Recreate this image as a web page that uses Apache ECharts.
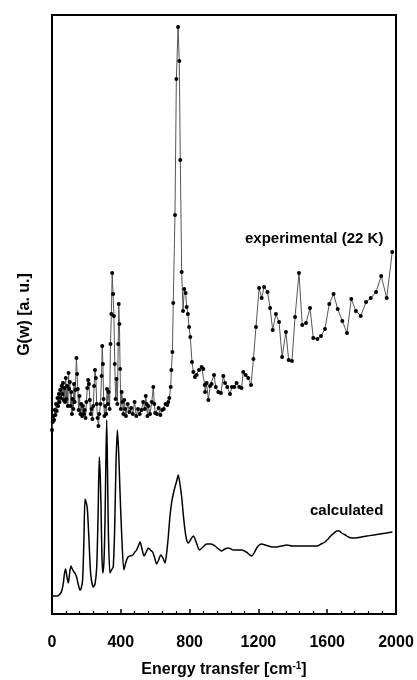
<!DOCTYPE html>
<html>
<head>
<meta charset="utf-8">
<script src="https://cdn.jsdelivr.net/npm/echarts@6/dist/echarts.min.js"></script>
<style>html,body{margin:0;padding:0;background:#fff;}#c{width:417px;height:680px;}</style>
</head>
<body>
<div id="c"></div>
<script>
var xTicks = [0, 400, 800, 1200, 1600, 2000];

var expX = [0,4,8,12,16,20,24,28,32,36,40,44,48,52,56,60,64,68,72,76,80,84,88,92,96,100,104,108,112,116,120,124,128,132,136,142,146,150,155,160,165,170,175,180,185,190,195,200,205,210,215,220,225,230,235,240,245,250,255,260,265,270,275,282,288,292,296,300,305,310,315,320,325,330,335,340,345,350,355,360,365,370,375,380,385,388,392,396,400,405,410,415,420,425,430,440,450,460,470,480,490,500,510,520,530,540,545,550,555,560,570,580,589,595,600,610,620,630,640,650,660,670,676,682,690,694,700,705,715,723,733,740,746,754,762,769,777,783,790,797,804,814,822,831,841,855,870,880,888,890,899,909,919,928,942,952,967,982,996,1006,1019,1035,1046,1060,1073,1089,1102,1112,1126,1141,1157,1171,1186,1204,1219,1233,1253,1268,1283,1302,1320,1338,1360,1376,1395,1413,1436,1455,1477,1500,1519,1543,1564,1587,1612,1637,1661,1688,1715,1740,1767,1795,1826,1853,1884,1914,1946,1978];
var expY = [184,192,198,194,204,199,210,203,216,208,220,212,224,216,228,220,231,214,226,212,236,215,228,208,241,225,232,208,222,200,215,205,230,212,224,256,240,225,204,218,200,210,198,208,200,204,196,212,226,234,230,214,200,205,195,208,228,244,236,210,196,188,200,210,238,268,250,215,198,208,200,225,210,222,205,270,300,341,320,298,250,215,235,210,270,310,290,245,205,222,212,200,214,205,198,210,202,206,200,212,198,205,200,204,212,205,218,210,198,208,200,212,227,210,201,200,206,199,204,205,210,209,212,216,227,244,262,311,399,535,587,553,454,342,303,325,321,307,300,287,277,252,242,237,239,244,247,245,229,222,231,214,228,230,239,227,222,221,238,231,227,220,227,227,231,227,226,242,239,236,229,255,287,326,316,327,322,306,284,300,292,257,282,254,253,297,341,289,291,306,276,275,278,285,310,320,305,293,281,315,303,298,312,316,322,338,316,362];

var calcX = [0,30,47,58,66,72,79,86,95,102,110,118,128,136,143,152,163,170,178,185,192,198,205,210,215,225,240,250,260,268,275,280,285,290,295,302,308,313,318,323,328,337,346,356,365,372,380,388,395,405,418,430,442,453,470,482,492,502,512,522,535,548,560,572,585,597,608,620,632,645,657,666,676,686,696,705,715,725,734,744,754,763,773,783,793,808,822,838,857,878,899,925,948,968,986,1005,1025,1040,1054,1080,1103,1130,1161,1175,1190,1205,1219,1240,1258,1280,1306,1335,1364,1400,1442,1490,1539,1565,1587,1605,1626,1640,1655,1670,1684,1705,1723,1745,1762,1800,1830,1870,1907,1945,1979];
var calcY = [18,18,20,24,31,40,45,38,31,40,48,45,42,40,37,30,24,26,34,70,115,112,106,92,74,40,27,30,47,100,157,140,107,60,41,52,91,150,194,140,80,41,44,47,90,150,184,160,124,80,44,52,57,58,59,62,64,68,72,66,58,62,66,64,62,56,50,54,59,56,51,60,77,98,112,120,127,133,139,130,117,100,84,74,71,75,78,72,64,67,70,70,68,65,63,65,66,65,64,64,64,62,58,61,66,69,70,69,68,67,67,68,69,68,68,68,68,70,72,75,79,81,83,83,81,79,77,76,76,77,78,79,80,81,82];

function pairs(xs, ys){ var o=[]; for(var i=0;i<xs.length;i++){o.push([xs[i], ys[i]]);} return o; }

var chart = echarts.init(document.getElementById('c'), null, {renderer:'canvas'});
var font = 'Liberation Sans, Arial, sans-serif';
chart.setOption({
  animation: false,
  backgroundColor: '#fff',
  grid: {left: 52, right: 21, top: 15, bottom: 66, containLabel: false, outerBoundsMode: 'none',
    show: true, borderColor: '#000', borderWidth: 2, backgroundColor: 'transparent'},
  xAxis: {
    type: 'value', min: xTicks[0], max: xTicks[xTicks.length-1], interval: 400,
    axisLine: {show: true, lineStyle: {color: '#000', width: 2}},
    axisTick: {show: true, inside: true, length: 5, lineStyle: {color: '#000', width: 1.5}},
    minorTick: {show: true, splitNumber: 5, length: 3, lineStyle: {color: '#000', width: 1.2}},
    splitLine: {show: false},
    axisLabel: {color: '#000', fontFamily: font, fontWeight: 'bold', fontSize: 16, margin: 21,
      formatter: function(v){ return String(v); }},
    name: 'Energy transfer [cm{sup|-1}]',
    nameLocation: 'middle', nameGap: 47,
    nameTextStyle: {color: '#000', fontFamily: font, fontWeight: 'bold', fontSize: 16,
      rich: {sup: {fontFamily: font, fontWeight: 'bold', fontSize: 10, verticalAlign: 'top', padding: [0,0,7,0], color:'#000'}}}
  },
  yAxis: {
    type: 'value', min: 0, max: 599,
    axisLine: {show: true, lineStyle: {color: '#000', width: 2}},
    axisTick: {show: false}, axisLabel: {show: false}, splitLine: {show: false},
    name: 'G(w) [a. u.]', nameLocation: 'middle', nameGap: 19,
    nameTextStyle: {color: '#000', fontFamily: font, fontWeight: 'bold', fontSize: 16}
  },
  series: [
    {
      type: 'line', data: pairs(expX, expY), symbol: 'circle', symbolSize: 4,
      itemStyle: {color: '#000'}, lineStyle: {color: '#555', width: 1},
      z: 3
    },
    {
      type: 'line', data: pairs(calcX, calcY), symbol: 'none', smooth: 0.25,
      lineStyle: {color: '#000', width: 1.5}, z: 2
    }
  ],
  graphic: [
    {type: 'text', left: 245, top: 231, style: {text: 'experimental (22 K)', font: 'bold 15px Liberation Sans, Arial, sans-serif', fill: '#000'}},
    {type: 'text', left: 310, top: 503, style: {text: 'calculated', font: 'bold 15px Liberation Sans, Arial, sans-serif', fill: '#000'}}
  ]
});
</script>
</body>
</html>
